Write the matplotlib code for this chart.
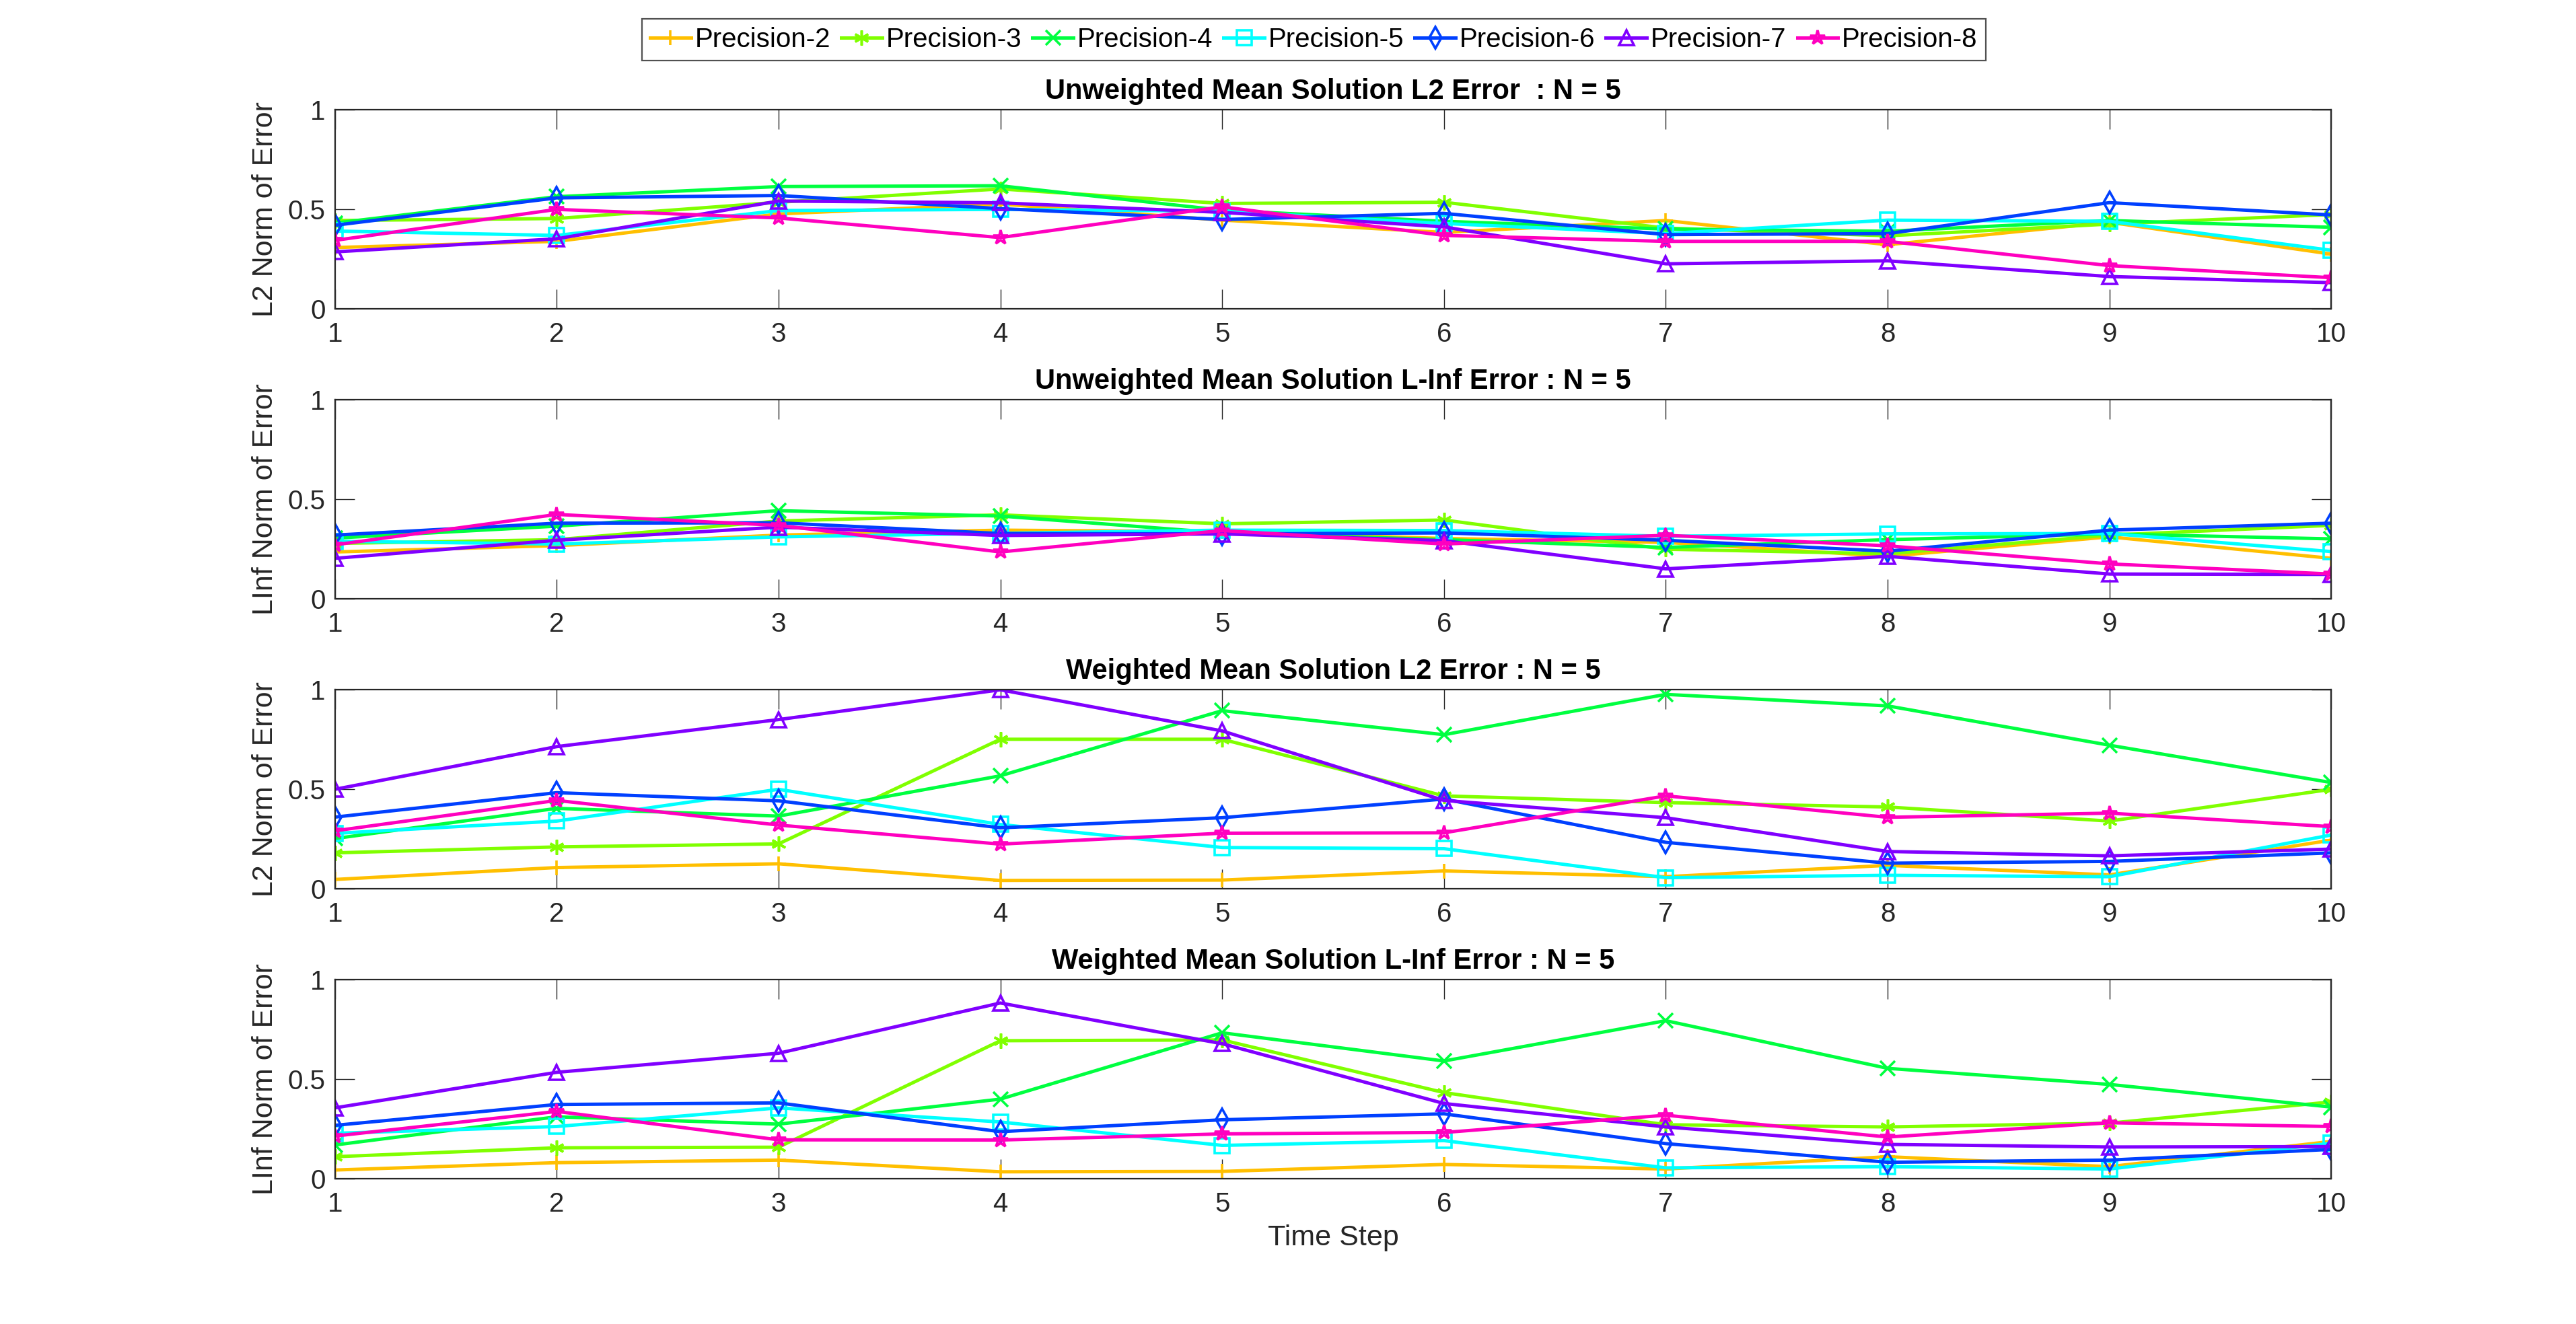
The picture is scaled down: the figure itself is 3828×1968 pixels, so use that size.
#importing the libraries
import matplotlib
matplotlib.use('Agg')
import matplotlib.pyplot as plt

# time steps and series names
time_steps = [1, 2, 3, 4, 5, 6, 7, 8, 9, 10]
labels = ['Precision-2', 'Precision-3', 'Precision-4', 'Precision-5',
          'Precision-6', 'Precision-7', 'Precision-8']

# unweighted mean, L2 error (one row per precision)
unw_l2 = [
    [0.307, 0.338, 0.476, 0.526, 0.445, 0.383, 0.443, 0.321, 0.434, 0.274],
    [0.443, 0.453, 0.535, 0.602, 0.529, 0.535, 0.405, 0.366, 0.425, 0.473],
    [0.430, 0.563, 0.614, 0.618, 0.495, 0.439, 0.400, 0.389, 0.443, 0.409],
    [0.390, 0.368, 0.493, 0.499, 0.490, 0.428, 0.377, 0.445, 0.439, 0.293],
    [0.419, 0.557, 0.569, 0.503, 0.448, 0.479, 0.372, 0.377, 0.533, 0.471],
    [0.285, 0.351, 0.541, 0.532, 0.484, 0.411, 0.225, 0.240, 0.161, 0.130],
    [0.343, 0.499, 0.456, 0.357, 0.512, 0.368, 0.338, 0.338, 0.216, 0.155],
]

# unweighted mean, L-Inf error
unw_linf = [
    [0.234, 0.266, 0.319, 0.344, 0.336, 0.302, 0.282, 0.212, 0.310, 0.202],
    [0.277, 0.296, 0.390, 0.421, 0.376, 0.395, 0.248, 0.225, 0.319, 0.368],
    [0.304, 0.364, 0.442, 0.415, 0.330, 0.296, 0.257, 0.296, 0.325, 0.300],
    [0.288, 0.274, 0.310, 0.328, 0.344, 0.342, 0.313, 0.325, 0.327, 0.236],
    [0.319, 0.379, 0.381, 0.327, 0.325, 0.330, 0.293, 0.238, 0.344, 0.379],
    [0.202, 0.293, 0.359, 0.317, 0.325, 0.291, 0.149, 0.212, 0.123, 0.121],
    [0.270, 0.423, 0.368, 0.234, 0.342, 0.274, 0.318, 0.265, 0.174, 0.123],
]

# weighted mean, L2 error
w_l2 = [
    [0.045, 0.105, 0.124, 0.040, 0.042, 0.088, 0.059, 0.116, 0.068, 0.243],
    [0.179, 0.209, 0.224, 0.751, 0.751, 0.466, 0.432, 0.410, 0.339, 0.499],
    [0.251, 0.403, 0.364, 0.567, 0.895, 0.774, 0.977, 0.919, 0.721, 0.533],
    [0.277, 0.339, 0.499, 0.322, 0.206, 0.200, 0.054, 0.066, 0.059, 0.269],
    [0.359, 0.482, 0.441, 0.305, 0.356, 0.450, 0.232, 0.127, 0.136, 0.179],
    [0.499, 0.714, 0.850, 1.000, 0.793, 0.443, 0.356, 0.186, 0.164, 0.198],
    [0.290, 0.443, 0.319, 0.223, 0.278, 0.280, 0.466, 0.358, 0.379, 0.311],
]

# weighted mean, L-Inf error
w_linf = [
    [0.042, 0.079, 0.092, 0.033, 0.035, 0.070, 0.047, 0.109, 0.059, 0.186],
    [0.109, 0.154, 0.157, 0.693, 0.697, 0.432, 0.270, 0.259, 0.278, 0.385],
    [0.168, 0.310, 0.273, 0.399, 0.733, 0.591, 0.794, 0.554, 0.473, 0.359],
    [0.227, 0.261, 0.355, 0.284, 0.166, 0.190, 0.053, 0.059, 0.047, 0.177],
    [0.267, 0.372, 0.380, 0.235, 0.295, 0.325, 0.175, 0.081, 0.092, 0.146],
    [0.355, 0.534, 0.630, 0.883, 0.678, 0.377, 0.259, 0.171, 0.158, 0.160],
    [0.213, 0.337, 0.194, 0.193, 0.224, 0.231, 0.318, 0.208, 0.280, 0.261],
]

titles = ['Unweighted Mean Solution L2 Error  : N = 5',
          'Unweighted Mean Solution L-Inf Error : N = 5',
          'Weighted Mean Solution L2 Error : N = 5',
          'Weighted Mean Solution L-Inf Error : N = 5']
ylabels = ['L2 Norm of Error', 'LInf Norm of Error',
           'L2 Norm of Error', 'LInf Norm of Error']

# hsv(8) colours without the first (red) one
colors = ['#FFBF00', '#80FF00', '#00FF40', '#00FFFF',
          '#0040FF', '#8000FF', '#FF00BF']
markers = ['+', (6, 2, 0), 'x', 's', 'd', '^', '*']

plt.rcParams['font.family'] = ['Liberation Sans', 'DejaVu Sans']
axis_grey = '#262626'

fig = plt.figure(figsize=(19.14, 9.84), dpi=200)
bottoms = [0.767, 0.548, 0.329, 0.110]
panels = [unw_l2, unw_linf, w_l2, w_linf]

for k in range(4):
    ax = fig.add_axes([0.130, bottoms[k], 0.775, 0.150])
    for i in range(7):
        ax.plot(time_steps, panels[k][i], color=colors[i], marker=markers[i],
                markerfacecolor='none', markeredgecolor=colors[i],
                markersize=8, markeredgewidth=1.3, linewidth=1.8,
                label=labels[i])
    ax.set_xlim(1, 10)
    ax.set_ylim(0, 1)
    ax.set_xticks(time_steps)
    ax.set_yticks([0, 0.5, 1])
    ax.set_yticklabels(['0', '0.5', '1'])
    ax.tick_params(direction='in', length=10.4, width=0.5, top=True,
                   right=True, labelsize=14.5, colors=axis_grey, pad=5)
    ax.tick_params(axis='x', pad=7)
    for s in ax.spines.values():
        s.set_color(axis_grey)
        s.set_linewidth(0.8)
    ax.set_title(titles[k], fontsize=15, fontweight='bold', pad=6)
    ax.set_ylabel(ylabels[k], fontsize=15.5, color=axis_grey, labelpad=5)
    if k == 3:
        ax.set_xlabel('Time Step', fontsize=15.5, color=axis_grey, labelpad=4)
    if k == 0:
        handles, labs = ax.get_legend_handles_labels()

# legend across the top of the figure
leg = fig.legend(handles, labs, loc='center', ncol=7,
                 bbox_to_anchor=(0.51, 0.970), fontsize=14.5, frameon=True,
                 fancybox=False, edgecolor=axis_grey, handlelength=1.5,
                 handletextpad=0.15, columnspacing=0.4, borderpad=0.3)
leg.get_frame().set_linewidth(0.8)

fig.savefig('out.png', dpi=200)
